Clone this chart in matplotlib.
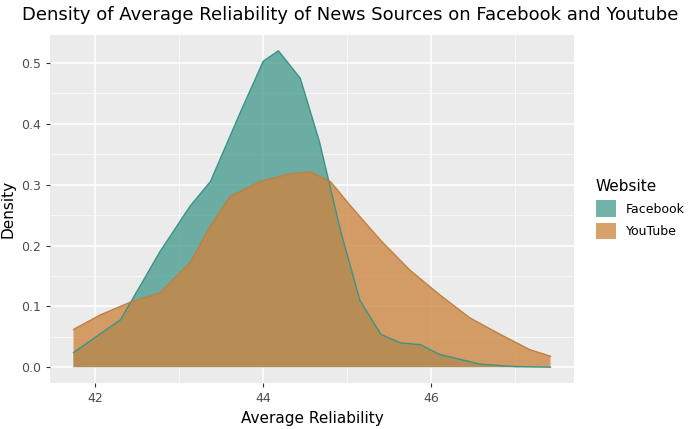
import numpy as np
import matplotlib.pyplot as plt

fb_x = [41.74, 42.3, 42.77, 43.13, 43.37, 43.73, 44.0, 44.18, 44.44, 44.67, 44.92, 45.15, 45.4, 45.63, 45.87, 46.1, 46.58, 47.0, 47.42]
fb_y = [0.024, 0.078, 0.19, 0.265, 0.305, 0.42, 0.503, 0.52, 0.475, 0.37, 0.224, 0.11, 0.054, 0.04, 0.037, 0.021, 0.005, 0.001, 0.0]
yt_x = [41.74, 42.06, 42.42, 42.77, 43.13, 43.37, 43.6, 43.96, 44.32, 44.56, 44.8, 45.04, 45.4, 45.75, 46.1, 46.46, 46.82, 47.17, 47.42]
yt_y = [0.062, 0.086, 0.107, 0.122, 0.172, 0.232, 0.28, 0.305, 0.318, 0.321, 0.305, 0.265, 0.208, 0.159, 0.119, 0.081, 0.054, 0.029, 0.018]

fig = plt.figure(figsize=(6.95, 4.29), dpi=100)
ax = fig.add_axes([50/695, 46/429, 524/695, 348/429])
ax.set_facecolor('#EBEBEB')
for s in ax.spines.values():
    s.set_visible(False)

ax.set_xlim(41.46, 47.70)
ax.set_ylim(-0.026, 0.546)
ax.set_xticks([42, 44, 46])
ax.set_xticks([43, 45, 47], minor=True)
ax.set_yticks([0.0, 0.1, 0.2, 0.3, 0.4, 0.5])
ax.set_yticks(np.arange(0.05, 0.55, 0.1), minor=True)
ax.yaxis.set_major_formatter(plt.FormatStrFormatter('%.1f'))
ax.grid(True, which='major', color='white', linewidth=1.1)
ax.grid(True, which='minor', color='white', linewidth=0.5)
ax.set_axisbelow(True)
ax.tick_params(which='major', length=3, color='#333333', labelsize=9, labelcolor='#4D4D4D')
ax.tick_params(which='minor', length=0)

ax.fill_between(fb_x, fb_y, color='#3a9488', alpha=0.72, edgecolor='none', label='Facebook')
ax.plot(fb_x, fb_y, color='#3a9488', linewidth=1)
ax.fill_between(yt_x, yt_y, color='#cd8540', alpha=0.78, edgecolor='none', label='YouTube')
ax.plot(yt_x, yt_y, color='#c0803f', linewidth=1)

ax.set_xlabel('Average Reliability', fontsize=11)
ax.set_ylabel('Density', fontsize=11)
fig.text(22/695, 1 - 15/429, 'Density of Average Reliability of News Sources on Facebook and Youtube',
         fontsize=13, va='center')

leg = ax.legend(loc='center left', bbox_to_anchor=(1.02, 0.5), frameon=False,
                title='Website', fontsize=9, title_fontsize=11, handlelength=1.6, handleheight=1.6)
leg._legend_box.align = 'left'

fig.savefig('out.png', dpi=100)
